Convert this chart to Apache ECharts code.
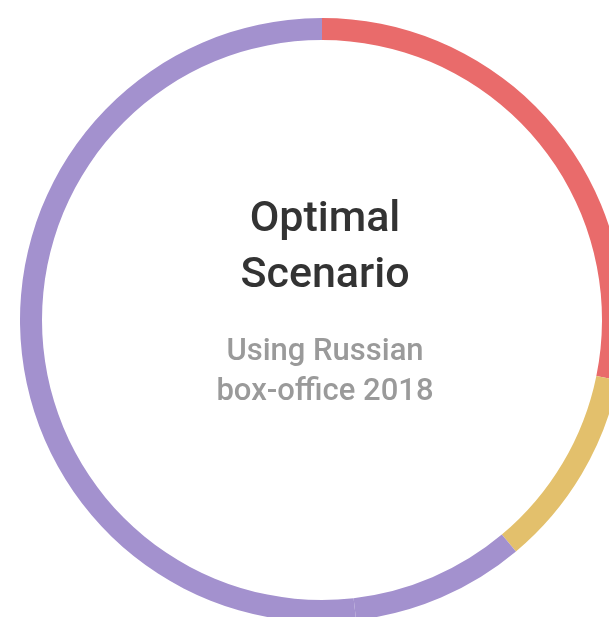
<!DOCTYPE html>
<html lang="en">
<head>
    <meta charset="UTF-8">
    <title>Optimal Scenario</title>
    <script src="https://cdnjs.cloudflare.com/ajax/libs/echarts/6.0.0/echarts.min.js"></script>
    <style>
        html, body { margin: 0; padding: 0; background: #fff; }
    </style>
</head>
<body>
<div id="container" style="width: 609px;height: 617px"></div>
<script>
    // ring segments, clockwise from 12 o'clock
    var segNames = ['A', 'B', 'C', 'D'];
    var segValues = [28.2, 10.7, 9.3, 51.8];
    var segColors = ['#e96b6b', '#e3c06c', '#a391ce', '#a391ce'];

    var titleLines = ['Optimal', 'Scenario'];
    var subLines = ['Using Russian', 'box-office 2018'];

    var myChart = echarts.init(document.getElementById('container'));

    var data = segValues.map(function (v, i) {
        return { name: segNames[i], value: v, itemStyle: { color: segColors[i] } };
    });

    var option = {
        animation: false,
        title: {
            text: titleLines.join('\n'),
            subtext: subLines.join('\n'),
            left: 320,
            top: 187,
            textAlign: 'center',
            itemGap: 28,
            textStyle: {
                fontFamily: 'Roboto',
                fontWeight: 500,
                fontSize: 43,
                lineHeight: 56,
                color: '#333333'
            },
            subtextStyle: {
                fontFamily: 'Roboto',
                fontWeight: 500,
                fontSize: 31,
                lineHeight: 40,
                color: '#9a9a9a'
            }
        },
        series: [{
            type: 'pie',
            center: [322, 320],
            radius: [280, 302],
            startAngle: 90,
            clockwise: true,
            silent: true,
            label: { show: false },
            labelLine: { show: false },
            itemStyle: { borderWidth: 0 },
            data: data
        }]
    };

    myChart.setOption(option);
</script>
</body>
</html>
